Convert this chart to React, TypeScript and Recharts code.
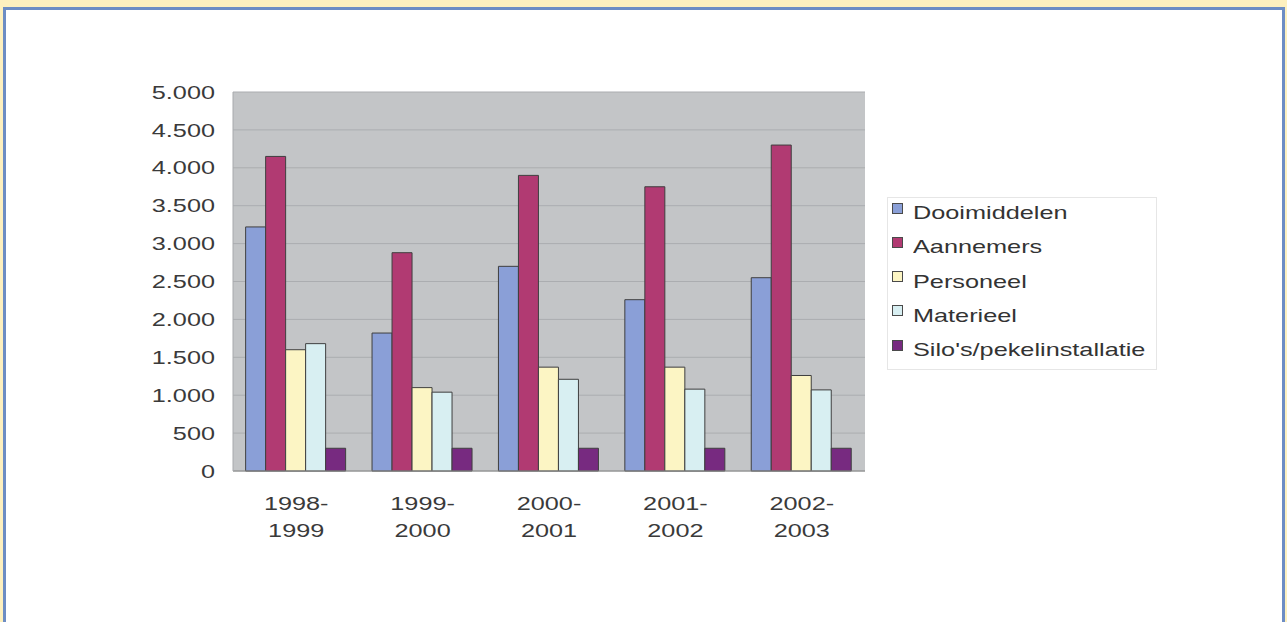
import { BarChart, Bar, XAxis, YAxis, CartesianGrid, Legend } from "recharts";

const seasons = ["1998-1999", "1999-2000", "2000-2001", "2001-2002", "2002-2003"];
const dooimiddelen = [3220, 1820, 2700, 2260, 2550];
const aannemers = [4150, 2880, 3900, 3750, 4300];
const personeel = [1600, 1100, 1370, 1370, 1260];
const materieel = [1680, 1040, 1210, 1080, 1070];
const silos = [300, 300, 300, 300, 300];
const yTicks = [0, 500, 1000, 1500, 2000, 2500, 3000, 3500, 4000, 4500, 5000];

const series = [
  { key: "dooimiddelen", name: "Dooimiddelen", color: "#8a9fd7" },
  { key: "aannemers", name: "Aannemers", color: "#b13a72" },
  { key: "personeel", name: "Personeel", color: "#fcf5c4" },
  { key: "materieel", name: "Materieel", color: "#d8eff2" },
  { key: "silos", name: "Silo's/pekelinstallatie", color: "#772a80" },
];

const data = seasons.map((s, i) => ({
  season: s,
  dooimiddelen: dooimiddelen[i],
  aannemers: aannemers[i],
  personeel: personeel[i],
  materieel: materieel[i],
  silos: silos[i],
}));

const FONT = "'Liberation Sans', Arial, sans-serif";
const STRETCH = 1.33;

// thousands with a dot, like the Dutch original
const fmt = (v: number) => v.toLocaleString("de-DE");

function YTick({ x, y, payload }: any) {
  return (
    <text
      transform={`translate(${x},${y}) scale(${STRETCH},1)`}
      textAnchor="end"
      dy="0.35em"
      fontSize={19}
      fontFamily={FONT}
      fill="#3a3a3a"
    >
      {fmt(payload.value)}
    </text>
  );
}

function XTick({ x, y, payload }: any) {
  const [a, b] = String(payload.value).split("-");
  return (
    <g transform={`translate(${x},${y}) scale(${STRETCH},1)`}>
      <text textAnchor="middle" y={39} fontSize={19} fontFamily={FONT} fill="#3a3a3a">
        {a}-
      </text>
      <text textAnchor="middle" y={66} fontSize={19} fontFamily={FONT} fill="#3a3a3a">
        {b}
      </text>
    </g>
  );
}

function LegendBox() {
  return (
    <div
      style={{
        width: 268,
        height: 171,
        border: "1px solid #e6e6e6",
        background: "#fff",
        boxSizing: "content-box",
        paddingTop: 0,
      }}
    >
      {series.map((s, i) => (
        <div
          key={s.key}
          style={{
            position: "absolute",
            left: 5,
            top: 16 + i * 34.3,
            height: 0,
            display: "flex",
            alignItems: "center",
          }}
        >
          <div
            style={{
              width: 9,
              height: 9,
              background: s.color,
              border: "1px solid #4a4a4a",
              marginTop: -10,
            }}
          />
          <div
            style={{
              position: "absolute",
              left: 21,
              top: -11,
              fontSize: 19,
              lineHeight: "22px",
              fontFamily: FONT,
              color: "#333",
              whiteSpace: "nowrap",
              transform: `scaleX(${STRETCH})`,
              transformOrigin: "left center",
            }}
          >
            {s.name}
          </div>
        </div>
      ))}
    </div>
  );
}

export default function App() {
  return (
    <div
      style={{
        position: "absolute",
        left: 0,
        top: 0,
        width: 1287,
        height: 622,
        overflow: "hidden",
        background: "#fdf0bf",
      }}
    >
      <div
        style={{
          position: "absolute",
          left: 3,
          top: 7,
          width: 1276,
          height: 700,
          background: "#fff",
          border: "3px solid #6d8dc4",
        }}
      />
      <div style={{ position: "absolute", left: 0, top: 0 }}>
        <BarChart
          width={1287}
          height={622}
          data={data}
          margin={{ top: 92, right: 422, left: 0, bottom: 91 }}
          barCategoryGap="10%"
          barGap={0}
        >
          <CartesianGrid vertical={false} stroke="#abadb0" fill="#c3c5c7" fillOpacity={1} />
          <XAxis
            dataKey="season"
            height={60}
            tickLine={false}
            tickSize={0}
            tickMargin={0}
            stroke="#8a8a8a"
            interval={0}
            tick={<XTick />}
          />
          <YAxis
            width={233}
            domain={[0, 5000]}
            ticks={yTicks}
            tickLine={false}
            tickSize={0}
            tickMargin={18}
            axisLine={{ stroke: "#a8aaad" }}
            tick={<YTick />}
          />
          <Legend
            layout="vertical"
            align="center"
            verticalAlign="middle"
            wrapperStyle={{ left: 887, top: 197, width: 270, height: 173 }}
            content={() => <LegendBox />}
          />
          {series.map((s) => (
            <Bar
              key={s.key}
              dataKey={s.key}
              name={s.name}
              fill={s.color}
              stroke="#3f3f3f"
              strokeWidth={1}
              isAnimationActive={false}
            />
          ))}
        </BarChart>
      </div>
    </div>
  );
}
